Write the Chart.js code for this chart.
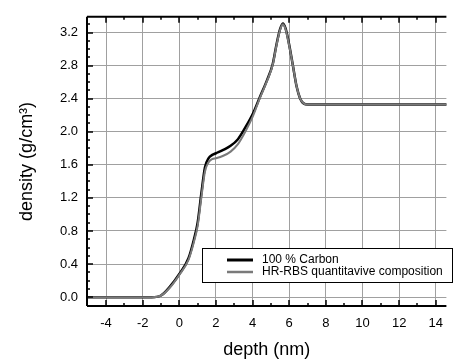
<!DOCTYPE html>
<html>
<head>
<meta charset="utf-8">
<script src="https://cdn.jsdelivr.net/npm/chart.js@4"></script>
<style>
  body { margin: 0; background: #fff; }
  canvas { display: block; }
</style>
</head>
<body>
<canvas id="densityChart" width="453" height="360"></canvas>
<script>
// depth in nm, density in g/cm3
const depth  = [-5.1, -2, -1.5, -1, -0.5, 0, 0.5, 0.8, 1.0, 1.2, 1.4, 1.6, 1.8, 2.0, 2.4, 2.8, 3.2, 3.6, 4.0, 4.4, 4.8, 5.1, 5.3, 5.5, 5.65, 5.8, 6.0, 6.2, 6.4, 6.6, 6.8, 7.0, 15];
const carbon = [0, 0, 0.0, 0.02, 0.13, 0.28, 0.47, 0.70, 0.90, 1.25, 1.57, 1.68, 1.72, 1.74, 1.78, 1.83, 1.91, 2.05, 2.21, 2.42, 2.63, 2.82, 3.05, 3.24, 3.31, 3.25, 3.05, 2.80, 2.55, 2.40, 2.34, 2.33, 2.33];
const hrrbs  = [0, 0, 0.0, 0.02, 0.12, 0.27, 0.45, 0.67, 0.86, 1.20, 1.52, 1.63, 1.67, 1.68, 1.71, 1.76, 1.85, 2.00, 2.18, 2.41, 2.62, 2.81, 3.04, 3.23, 3.30, 3.24, 3.04, 2.80, 2.55, 2.40, 2.34, 2.33, 2.33];
const seriesNames = ["100 % Carbon", "HR-RBS quantitavive composition"];

const FONT = "'Liberation Sans', Arial, sans-serif";
const toPts = ys => depth.map((x, i) => ({ x: x, y: ys[i] }));

// frame, inward ticks and boxed legend like the original plot
const framePlugin = {
  id: "frame",
  afterDraw(chart) {
    const ctx = chart.ctx;
    const a = chart.chartArea;
    const xs = chart.scales.x, ys = chart.scales.y;
    ctx.save();
    ctx.strokeStyle = "#000";
    ctx.lineWidth = 2;
    ctx.beginPath();
    ctx.moveTo(a.left, a.top); ctx.lineTo(a.right, a.top);
    ctx.moveTo(a.left, a.top); ctx.lineTo(a.left, a.bottom);
    ctx.moveTo(a.left, a.bottom); ctx.lineTo(a.right, a.bottom);
    ctx.stroke();

    ctx.lineWidth = 1.5;
    ctx.beginPath();
    for (let v = -5; v <= 15; v++) {
      const px = Math.round(xs.getPixelForValue(v));
      if (px <= a.left + 1 || px >= a.right) continue;
      const len = v % 2 === 0 ? 6 : 3;
      ctx.moveTo(px, a.bottom); ctx.lineTo(px, a.bottom - len);
      ctx.moveTo(px, a.top); ctx.lineTo(px, a.top + len);
    }
    for (let k = -1; k <= 34; k++) {
      const v = k / 10;
      const py = Math.round(ys.getPixelForValue(v));
      if (py <= a.top + 1 || py >= a.bottom - 1) continue;
      const len = k % 4 === 0 ? 6 : 3;
      ctx.moveTo(a.left, py); ctx.lineTo(a.left + len, py);
    }
    ctx.stroke();

    // legend box
    const bx = 202, by = 248, bw = 250, bh = 34;
    ctx.fillStyle = "#fff";
    ctx.fillRect(bx, by, bw, bh);
    ctx.lineWidth = 1;
    ctx.strokeStyle = "#000";
    ctx.strokeRect(bx + 0.5, by + 0.5, bw, bh);
    ctx.font = "12px " + FONT;
    ctx.textBaseline = "middle";
    chart.data.datasets.forEach((ds, i) => {
      const y = by + 12 + i * 12;
      ctx.strokeStyle = ds.borderColor;
      ctx.lineWidth = ds.borderWidth + 0.5;
      ctx.beginPath();
      ctx.moveTo(227, y); ctx.lineTo(253, y);
      ctx.stroke();
      ctx.fillStyle = "#000";
      ctx.fillText(ds.label, 262, y);
    });
    ctx.restore();
  }
};

new Chart(document.getElementById("densityChart"), {
  type: "scatter",
  data: {
    datasets: [
      {
        label: seriesNames[0],
        data: toPts(carbon),
        showLine: true,
        borderColor: "#000000",
        borderWidth: 2.5,
        pointRadius: 0,
        cubicInterpolationMode: "monotone",
        order: 2
      },
      {
        label: seriesNames[1],
        data: toPts(hrrbs),
        showLine: true,
        borderColor: "#7a7a7a",
        borderWidth: 2,
        pointRadius: 0,
        cubicInterpolationMode: "monotone",
        order: 1
      }
    ]
  },
  plugins: [framePlugin],
  options: {
    responsive: false,
    animation: false,
    layout: { padding: { top: 11, right: 0, left: 0, bottom: 0 } },
    plugins: { legend: { display: false }, tooltip: { enabled: false } },
    scales: {
      x: {
        type: "linear",
        min: -5.04,
        max: 14.58,
        afterFit: s => { s.height = 54; },
        border: { display: false },
        grid: { color: "#a0a0a0", lineWidth: 1, drawTicks: false },
        ticks: {
          stepSize: 2,
          includeBounds: false,
          padding: 10,
          color: "#000",
          font: { family: FONT, size: 13 },
          callback: v => String(v)
        },
        title: {
          display: true,
          text: "depth (nm)",
          color: "#000",
          font: { family: FONT, size: 18 },
          padding: { top: 0, bottom: -1 }
        }
      },
      y: {
        type: "linear",
        min: -0.107,
        max: 3.39,
        afterFit: s => { s.width = 87; },
        border: { display: false },
        grid: { color: "#a0a0a0", lineWidth: 1, drawTicks: false },
        ticks: {
          stepSize: 0.4,
          includeBounds: false,
          padding: 9,
          color: "#000",
          font: { family: FONT, size: 13 },
          callback: v => Number(v).toFixed(1)
        },
        title: {
          display: true,
          text: "density (g/cm³)",
          color: "#000",
          font: { family: FONT, size: 18 },
          padding: { top: 16, bottom: 0 }
        }
      }
    }
  }
});
</script>
</body>
</html>
